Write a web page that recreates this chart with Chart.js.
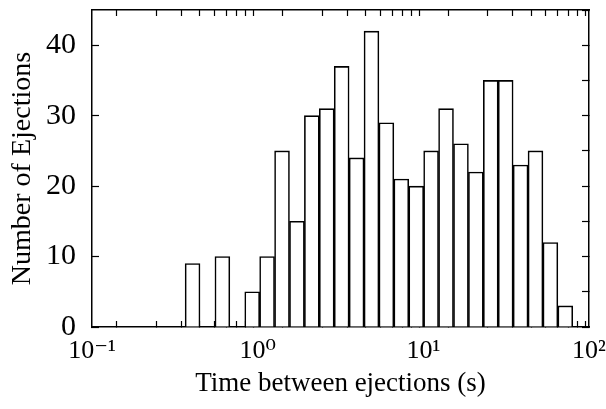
<!DOCTYPE html>
<html lang="en">
<head>
    <meta charset="UTF-8">
    <title>Time between ejections</title>
    <script src="https://cdn.jsdelivr.net/npm/chart.js"></script>
    <style>
        body { margin: 0; background: #fff; }
    </style>
</head>
<body>
    <canvas id="histChart" width="606" height="409"></canvas>

    <script>
        // histogram bins (log spaced, ~0.09 decade wide), centres in seconds
        var binCenters = [0.4046, 0.6124, 0.9268, 1.140, 1.403, 1.726, 2.123, 2.612, 3.214, 3.954, 4.864, 5.984,
                          7.362, 9.057, 11.14, 13.71, 16.87, 20.75, 25.53, 31.41, 38.64, 47.53, 58.48, 71.94];
        var counts = [9, 10, 5, 10, 25, 15, 30, 31, 37, 24, 42, 29,
                      21, 20, 25, 31, 26, 22, 35, 35, 23, 25, 12, 3];

        var xDecades = [0.1, 1, 10, 100];
        var xDecadeLabels = ['10\u207B\u00B9', '10\u2070', '10\u00B9', '10\u00B2'];
        var yMax = 45;

        // minor ticks 1..9 in each decade
        var xTicks = [];
        [0.1, 1, 10].forEach(function (d) {
            for (var m = 1; m < 10; m++) xTicks.push(+(m * d).toPrecision(3));
        });
        xTicks.push(100);

        Chart.defaults.font.family = "'Liberation Serif', 'DejaVu Serif', serif";
        Chart.defaults.color = '#000';

        function setXTicks(axis) {
            axis.ticks = xTicks.map(function (v) { return { value: v }; });
        }

        // fixed axis box sizes, no label overhang padding
        function fixSize(w, h) {
            return function (axis) {
                if (w !== null) axis.width = w;
                if (h !== null) axis.height = h;
                axis.paddingLeft = axis.paddingRight = axis.paddingTop = axis.paddingBottom = 0;
            };
        }

        var frameGrid = function (len) {
            return { drawOnChartArea: false, drawTicks: true, tickLength: len, color: '#000', tickColor: '#000', tickWidth: 1.2 };
        };
        var frameBorder = { display: true, color: '#000', width: 1.5 };

        var ctx = document.getElementById('histChart').getContext('2d');
        var histChart = new Chart(ctx, {
            type: 'bar',
            data: {
                datasets: [{
                    data: binCenters.map(function (c, i) { return { x: c, y: counts[i] }; }),
                    xAxisID: 'xb',
                    yAxisID: 'y',
                    backgroundColor: '#fff',
                    borderColor: '#000',
                    borderWidth: 1.6,
                    barPercentage: 1,
                    categoryPercentage: 1
                }]
            },
            options: {
                responsive: false,
                devicePixelRatio: 1,
                animation: false,
                events: [],
                layout: { padding: 0 },
                plugins: { legend: { display: false }, tooltip: { enabled: false } },
                scales: {
                    // hidden axis the bars sit on, so bar width follows bin spacing
                    xb: {
                        type: 'logarithmic', display: false, min: 0.1, max: 100, offset: false,
                        afterBuildTicks: function (axis) { axis.ticks = [{ value: 0.1 }, { value: 100 }]; },
                        afterFit: fixSize(null, 0)
                    },
                    x: {
                        type: 'logarithmic', position: 'bottom', min: 0.1, max: 100, offset: false, z: 1,
                        afterBuildTicks: setXTicks,
                        afterFit: fixSize(null, 82),
                        grid: frameGrid(-6),
                        border: frameBorder,
                        ticks: {
                            autoSkip: false, maxRotation: 0, padding: 15,
                            font: { size: 26 },
                            callback: function (v) {
                                var i = xDecades.indexOf(v);
                                return i >= 0 ? xDecadeLabels[i] : '';
                            }
                        },
                        title: { display: true, text: 'Time between ejections (s)', font: { size: 27 }, padding: { top: 0, bottom: 9 } }
                    },
                    x2: {
                        type: 'logarithmic', position: 'top', min: 0.1, max: 100, offset: false, z: 1,
                        afterBuildTicks: setXTicks,
                        afterFit: fixSize(null, 10),
                        grid: frameGrid(-6),
                        border: frameBorder,
                        ticks: { display: false, autoSkip: false }
                    },
                    y: {
                        type: 'linear', position: 'left', min: 0, max: yMax, z: 1,
                        afterFit: fixSize(92, null),
                        grid: frameGrid(-7),
                        border: frameBorder,
                        ticks: {
                            stepSize: 5, padding: 23,
                            font: { size: 30 },
                            callback: function (v) { return (v % 10 === 0 && v < yMax) ? String(v) : ''; }
                        },
                        title: { display: true, text: 'Number of Ejections', font: { size: 28 }, padding: { top: 6, bottom: 0 } }
                    },
                    y2: {
                        type: 'linear', position: 'right', min: 0, max: yMax, z: 1,
                        afterFit: fixSize(17, null),
                        grid: frameGrid(-7),
                        border: frameBorder,
                        ticks: { display: false, stepSize: 5 }
                    }
                }
            }
        });
    </script>
</body>
</html>
